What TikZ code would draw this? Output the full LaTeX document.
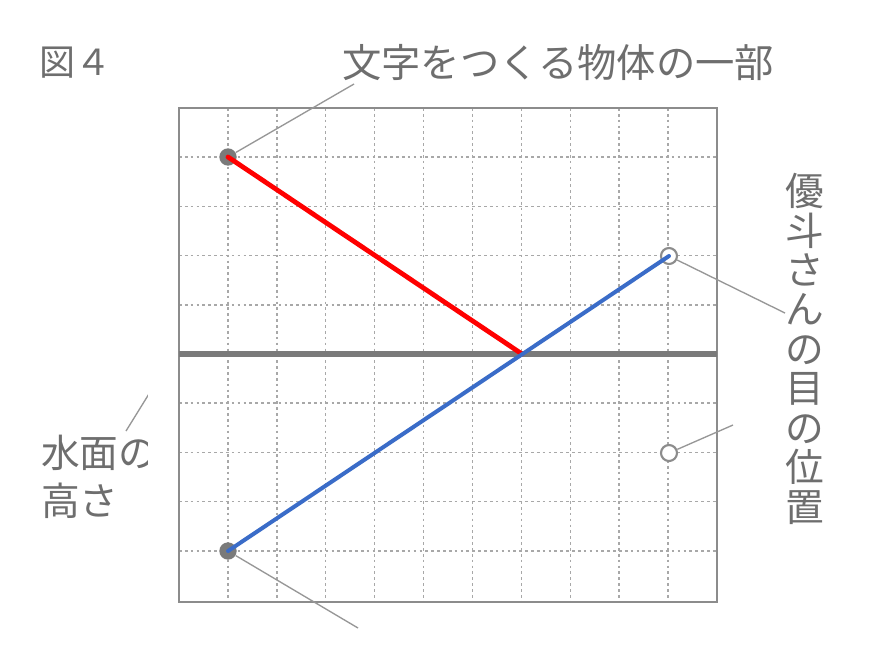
\documentclass[tikz,border=0pt]{standalone}
\usepackage{fontspec}
\newfontfamily\jp{Noto Sans CJK JP}
\definecolor{txt}{HTML}{6E6E6E}
\definecolor{boxc}{HTML}{8C8C8C}
\definecolor{gridc}{HTML}{A8A8A8}
\definecolor{waterc}{HTML}{7A7A7A}
\definecolor{blueline}{HTML}{3A6CC8}
\definecolor{redline}{HTML}{FF0000}
\tikzset{
  gridline/.style={draw=gridc, line width=1.1pt, dash pattern=on 2pt off 2.4pt},
  boxline/.style={draw=boxc, line width=1.6pt},
  waterline/.style={draw=waterc, line width=5pt},
  dotnode/.style={circle, fill=waterc, inner sep=0pt, minimum size=13pt},
  ringnode/.style={circle, draw=boxc, line width=1.6pt, fill=white, inner sep=0pt, minimum size=12pt},
  raypath/.style={line width=3pt, line cap=round},
  leader/.style={draw=boxc!90, line width=1pt},
  lbl/.style={text=txt, font=\jp, inner sep=0pt},
}
\begin{document}
\begin{tikzpicture}[x=0.75pt,y=-0.75pt]
\useasboundingbox[fill=white] (0,0) rectangle (881,662);
% grid
\foreach \i in {1,...,10} \draw[gridline] ({179+\i*48.909},108) -- ({179+\i*48.909},602);
\foreach \j in {1,2,3,4,6,7,8,9} \draw[gridline] (179,{108+\j*49.2}) -- (717,{108+\j*49.2});
\draw[boxline] (179,108) rectangle (717,602);
\draw[waterline] (179,354) -- (717,354);
% points
\node[dotnode] (obj) at (228,157) {};
\node[dotnode] (img) at (228,551) {};
\node[ringnode] (eye) at (669,256) {};
\node[ringnode] (eyeimg) at (669,453) {};
\coordinate (R) at (522,354);
% rays
\draw[raypath, draw=redline, line width=3.6pt] (obj.center) -- (R);
\draw[raypath, draw=blueline] (img.center) -- (eye.center);
% labels
\node[lbl, anchor=west, font=\jp\fontsize{27pt}{27pt}\selectfont] (fig) at (39,63) {図４};
\node[lbl, anchor=west, font=\jp\fontsize{29.5pt}{29.5pt}\selectfont] (title) at (342,63) {文字をつくる物体の一部};
\node[lbl, align=center, anchor=north, font=\jp\fontsize{29pt}{29.6pt}\selectfont] (eyelbl) at (805,173)
  {優\\斗\\さ\\ん\\の\\目\\の\\位\\置};
\node[lbl, align=left, anchor=north west, font=\jp\fontsize{29pt}{36pt}\selectfont] (waterlbl) at (41,435)
  {水面の\\高さ};
% leaders
\coordinate (t1) at (354,84);
\coordinate (e1) at (785,313);
\coordinate (e2) at (733,425);
\coordinate (w1) at (126,431);
\coordinate (w2) at (152,389);
\coordinate (b1) at (358,628);
\draw[leader] (obj) -- (t1);
\draw[leader] (eye) -- (e1);
\draw[leader] (eyeimg) -- (e2);
\draw[leader] (img) -- (b1);
\draw[leader] (w1) -- (w2);
% the reference is cut off beside the water label
\fill[white] (148,380) rectangle (176,480);
\end{tikzpicture}
\end{document}
